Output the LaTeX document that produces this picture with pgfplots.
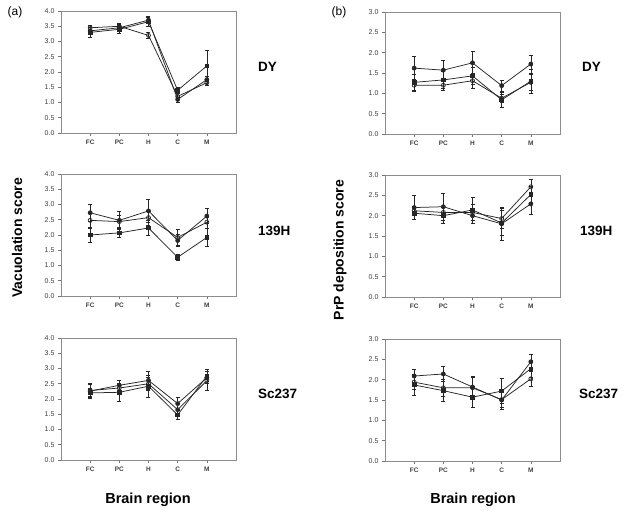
\documentclass[border=0pt]{standalone}
\usepackage{fontspec}
\setmainfont{Liberation Sans}
\usepackage{pgfplots}
\pgfplotsset{compat=1.18}
\pgfplotsset{
 panel/.style={
  scale only axis, width=175pt, height=122pt,
  xmin=0, xmax=6, xtick={1,2,3,4,5}, xticklabels={FC,PC,H,C,M},
  ymin=0,
  axis line style={black!45, line width=0.6pt},
  tick style={black!55, line width=0.6pt},
  tick align=outside, major tick length=3pt,
  xtick pos=bottom, ytick pos=left,
  /pgf/number format/assume math mode=true,
  yticklabel style={/pgf/number format/fixed, /pgf/number format/fixed zerofill, /pgf/number format/precision=1, font=\fontsize{7}{8}\selectfont, text=black!75},
  xticklabel style={font=\fontsize{6.5}{7}\selectfont\bfseries, text=black!75},
  every axis plot/.append style={black!85, line width=0.75pt, error bars/y dir=both, error bars/y explicit,
     error bars/error bar style={line width=0.65pt, black!85},
     error bars/error mark options={rotate=90, mark size=2pt, line width=0.65pt, black!85}},
 },
 vac/.style={ymax=4, ytick={0,0.5,1,1.5,2,2.5,3,3.5,4}},
 prp/.style={ymax=3, ytick={0,0.5,1,1.5,2,2.5,3}},
 s1/.style={mark=*, mark size=2pt, mark options={fill=black!85}},
 s2/.style={mark=square*, mark size=1.8pt, mark options={fill=black!85}},
 s3/.style={mark=o, mark size=2pt, mark options={fill=white}},
}
\begin{document}
\begin{tikzpicture}
\path[use as bounding box] (0pt,0pt) rectangle (629pt,-515pt);
% ---------- (a) DY
\begin{axis}[panel, vac, at={(61pt,-133pt)}, anchor=south west]
\addplot[s2] coordinates {(1,3.30) +- (0,0.15) (2,3.40) +- (0,0.12) (3,3.65) +- (0,0.15) (4,1.40) +- (0,0.10) (5,2.20) +- (0,0.50)};
\addplot[s3] coordinates {(1,3.45) +- (0,0.08) (2,3.50) +- (0,0.10) (3,3.20) +- (0,0.10) (4,1.20) +- (0,0.10) (5,1.65) +- (0,0.10)};
\addplot[s1] coordinates {(1,3.35) +- (0,0.10) (2,3.45) +- (0,0.10) (3,3.70) +- (0,0.12) (4,1.10) +- (0,0.08) (5,1.75) +- (0,0.12)};
\end{axis}
% ---------- (a) 139H
\begin{axis}[panel, vac, at={(61pt,-296pt)}, anchor=south west]
\addplot[s2] coordinates {(1,2.00) +- (0,0.23) (2,2.07) +- (0,0.15) (3,2.23) +- (0,0.25) (4,1.27) +- (0,0.10) (5,1.92) +- (0,0.30)};
\addplot[s3] coordinates {(1,2.48) +- (0,0.22) (2,2.44) +- (0,0.20) (3,2.57) +- (0,0.25) (4,1.92) +- (0,0.25) (5,2.42) +- (0,0.20)};
\addplot[s1] coordinates {(1,2.73) +- (0,0.27) (2,2.48) +- (0,0.30) (3,2.79) +- (0,0.38) (4,1.82) +- (0,0.20) (5,2.62) +- (0,0.24)};
\end{axis}
% ---------- (a) Sc237
\begin{axis}[panel, vac, at={(61pt,-460pt)}, anchor=south west]
\addplot[s2] coordinates {(1,2.20) +- (0,0.15) (2,2.22) +- (0,0.30) (3,2.42) +- (0,0.35) (4,1.48) +- (0,0.15) (5,2.75) +- (0,0.22)};
\addplot[s3] coordinates {(1,2.28) +- (0,0.20) (2,2.36) +- (0,0.12) (3,2.50) +- (0,0.20) (4,1.65) +- (0,0.20) (5,2.60) +- (0,0.30)};
\addplot[s1] coordinates {(1,2.26) +- (0,0.25) (2,2.45) +- (0,0.17) (3,2.61) +- (0,0.30) (4,1.85) +- (0,0.20) (5,2.70) +- (0,0.20)};
\end{axis}
% ---------- (b) DY
\begin{axis}[panel, prp, at={(385pt,-134pt)}, anchor=south west]
\addplot[s2] coordinates {(1,1.27) +- (0,0.20) (2,1.33) +- (0,0.20) (3,1.43) +- (0,0.20) (4,0.84) +- (0,0.18) (5,1.30) +- (0,0.30)};
\addplot[s3] coordinates {(1,1.20) +- (0,0.15) (2,1.20) +- (0,0.12) (3,1.31) +- (0,0.18) (4,0.88) +- (0,0.10) (5,1.27) +- (0,0.20)};
\addplot[s1] coordinates {(1,1.62) +- (0,0.28) (2,1.57) +- (0,0.25) (3,1.75) +- (0,0.28) (4,1.19) +- (0,0.13) (5,1.72) +- (0,0.22)};
\end{axis}
% ---------- (b) 139H
\begin{axis}[panel, prp, at={(385pt,-297pt)}, anchor=south west]
\addplot[s2] coordinates {(1,2.06) +- (0,0.15) (2,2.00) +- (0,0.20) (3,2.14) +- (0,0.32) (4,1.82) +- (0,0.30) (5,2.52) +- (0,0.20)};
\addplot[s3] coordinates {(1,2.12) +- (0,0.12) (2,2.08) +- (0,0.12) (3,2.08) +- (0,0.20) (4,1.93) +- (0,0.25) (5,2.71) +- (0,0.18)};
\addplot[s1] coordinates {(1,2.20) +- (0,0.30) (2,2.22) +- (0,0.34) (3,2.00) +- (0,0.18) (4,1.80) +- (0,0.40) (5,2.29) +- (0,0.25)};
\end{axis}
% ---------- (b) Sc237
\begin{axis}[panel, prp, at={(385pt,-461pt)}, anchor=south west]
\addplot[s2] coordinates {(1,1.87) +- (0,0.25) (2,1.73) +- (0,0.27) (3,1.57) +- (0,0.26) (4,1.72) +- (0,0.31) (5,2.27) +- (0,0.20)};
\addplot[s3] coordinates {(1,1.94) +- (0,0.18) (2,1.80) +- (0,0.20) (3,1.80) +- (0,0.25) (4,1.51) +- (0,0.20) (5,2.02) +- (0,0.18)};
\addplot[s1] coordinates {(1,2.09) +- (0,0.16) (2,2.14) +- (0,0.18) (3,1.82) +- (0,0.27) (4,1.50) +- (0,0.24) (5,2.44) +- (0,0.18)};
\end{axis}
% ---------- texts
\tikzset{lab/.style={font=\fontsize{13.5}{15}\selectfont\bfseries, anchor=west, inner sep=0pt}}
\node[lab] at (258pt,-67pt) {DY};
\node[lab] at (258pt,-231pt) {139H};
\node[lab] at (258pt,-394pt) {Sc237};
\node[lab] at (582pt,-67pt) {DY};
\node[lab] at (580pt,-231pt) {139H};
\node[lab] at (579pt,-394pt) {Sc237};
\node[font=\fontsize{14}{16}\selectfont\bfseries, rotate=90, inner sep=0pt] at (17pt,-238pt) {Vacuolation score};
\node[font=\fontsize{14}{16}\selectfont\bfseries, rotate=90, inner sep=0pt] at (340pt,-250pt) {PrP deposition score};
\node[font=\fontsize{14.5}{16}\selectfont\bfseries, inner sep=0pt] at (148pt,-500pt) {Brain region};
\node[font=\fontsize{14.5}{16}\selectfont\bfseries, inner sep=0pt] at (473pt,-500pt) {Brain region};
\node[font=\fontsize{12}{14}\selectfont, inner sep=0pt] at (15pt,-12pt) {(a)};
\node[font=\fontsize{12}{14}\selectfont, inner sep=0pt] at (339pt,-12pt) {(b)};
\end{tikzpicture}
\end{document}
